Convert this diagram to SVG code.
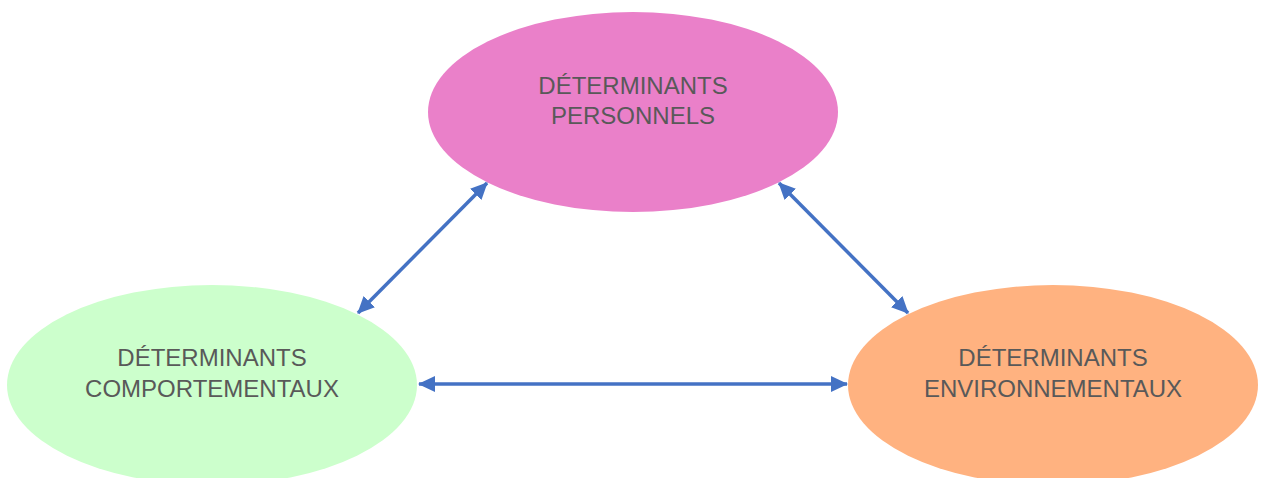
<svg xmlns="http://www.w3.org/2000/svg" width="1261" height="478" viewBox="0 0 1261 478">
<style>
.lbl{font-family:"Liberation Sans",Arial,sans-serif;font-size:24px;fill:#595959;text-anchor:middle}
.con{stroke:#4472C4;stroke-width:3.5;fill:none;marker-start:url(#ah);marker-end:url(#ah)}
</style>
<defs>
<marker id="ah" viewBox="0 0 17 16" refX="16" refY="8" markerWidth="17" markerHeight="16" markerUnits="userSpaceOnUse" orient="auto-start-reverse">
<path d="M0,0 L17,8 L0,16 Z" fill="#4472C4"/>
</marker>
</defs>
<rect width="1261" height="478" fill="#fff"/>
<g id="node-personnels">
<ellipse cx="633" cy="112" rx="205" ry="100" fill="#EA80C9"/>
<text class="lbl" x="633" y="94">DÉTERMINANTS</text>
<text class="lbl" x="633" y="124">PERSONNELS</text>
</g>
<g id="node-comportementaux">
<ellipse cx="212" cy="385" rx="205" ry="100" fill="#CCFFCC"/>
<text class="lbl" x="212" y="366">DÉTERMINANTS</text>
<text class="lbl" x="212" y="397">COMPORTEMENTAUX</text>
</g>
<g id="node-environnementaux">
<ellipse cx="1053" cy="385" rx="205" ry="100" fill="#FFB280"/>
<text class="lbl" x="1053" y="366">DÉTERMINANTS</text>
<text class="lbl" x="1053" y="397">ENVIRONNEMENTAUX</text>
</g>
<g id="connectors">
<line class="con" x1="487" y1="183" x2="358" y2="313"/>
<line class="con" x1="779" y1="183" x2="908" y2="313"/>
<line class="con" x1="419" y1="384" x2="847" y2="384"/>
</g>
</svg>
